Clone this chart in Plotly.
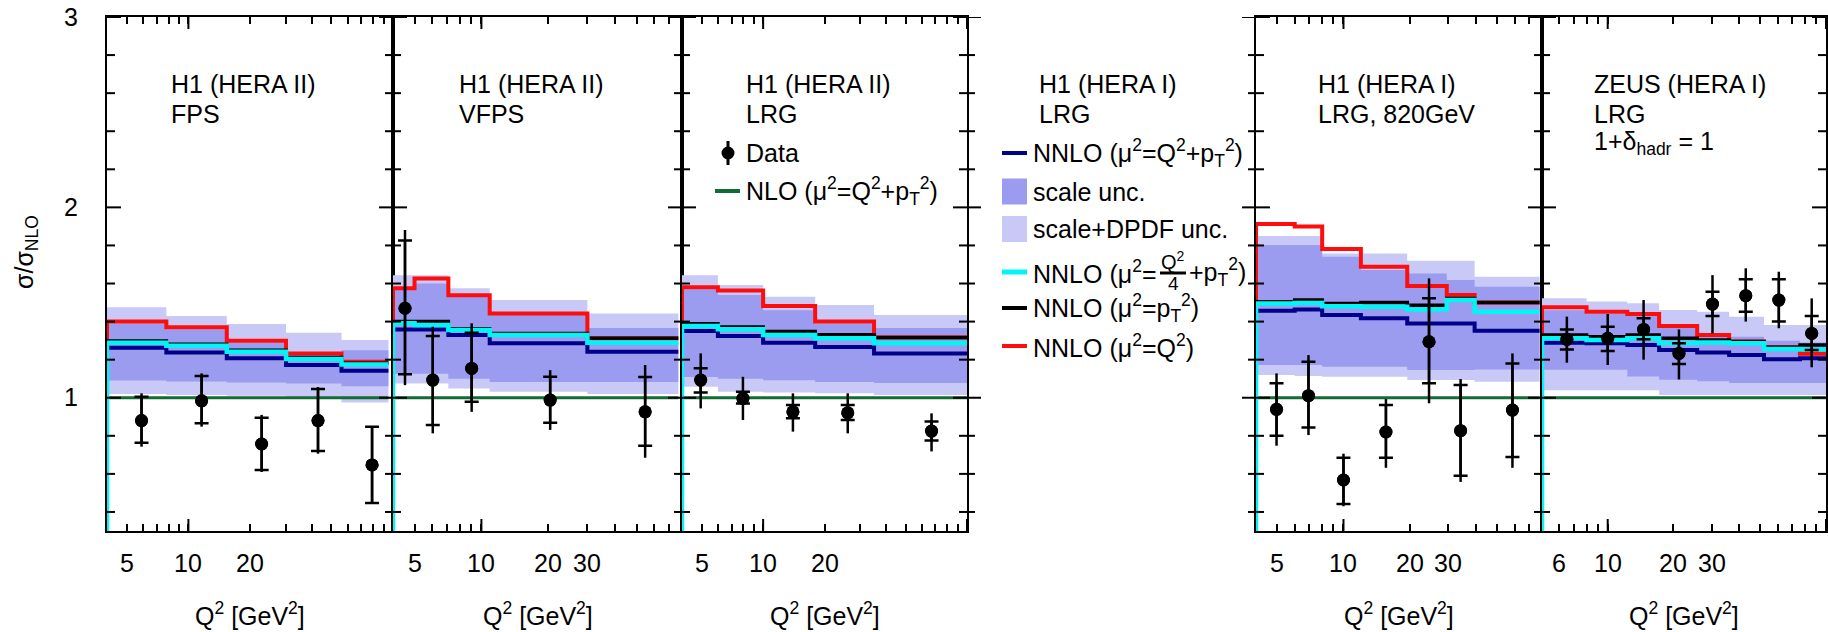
import numpy as np
import plotly.graph_objects as go

# ---------------- data (ratio sigma / sigma_NLO) ----------------
# Panel 1: H1 (HERA II) FPS
fps_edges    = [4, 7.8, 15.4, 30, 56, 95]
fps_light_hi = [1.475, 1.43, 1.387, 1.341, 1.303]
fps_light_lo = [1.02, 1.015, 1.01, 1.005, 0.975]
fps_scale_hi = [1.39, 1.36, 1.29, 1.225, 1.25]
fps_scale_lo = [1.09, 1.085, 1.08, 1.075, 1.06]
fps_nnlo     = [1.263, 1.238, 1.207, 1.172, 1.142]
fps_nnlo_q24 = [1.289, 1.273, 1.242, 1.203, 1.175]
fps_nnlo_pt  = [1.298, 1.281, 1.25, 1.212, 1.181]
fps_nnlo_q2  = [1.40, 1.37, 1.30, 1.233, 1.189]
fps_q2       = [5.9, 11.6, 22.8, 43, 79]
fps_data     = [0.88, 0.984, 0.757, 0.88, 0.647]
fps_stat_hi  = [1.005, 1.114, 0.895, 1.046, 0.848]
fps_stat_lo  = [0.764, 0.866, 0.62, 0.72, 0.447]
fps_tot_hi   = [1.023, 1.128, 0.91, 1.056, 0.848]
fps_tot_lo   = [0.743, 0.848, 0.61, 0.706, 0.447]

# Panel 2: H1 (HERA II) VFPS
vfps_edges    = [4, 5, 7.1, 10.9, 30, 77]
vfps_light_hi = [1.644, 1.644, 1.575, 1.514, 1.443]
vfps_light_lo = [1.075, 1.075, 1.049, 1.031, 1.019]
vfps_scale_hi = [1.575, 1.60, 1.535, 1.436, 1.366]
vfps_scale_lo = [1.126, 1.126, 1.10, 1.083, 1.083]
vfps_nnlo     = [1.359, 1.359, 1.33, 1.286, 1.242]
vfps_nnlo_q24 = [1.391, 1.382, 1.356, 1.329, 1.289]
vfps_nnlo_pt  = [1.40, 1.40, 1.363, 1.338, 1.313]
vfps_nnlo_q2  = [1.575, 1.627, 1.539, 1.443, 1.313]
vfps_q2       = [4.53, 6.04, 9.04, 20.4, 54.6]
vfps_data     = [1.47, 1.093, 1.154, 0.988, 0.926]
vfps_stat_hi  = [1.826, 1.324, 1.342, 1.11, 1.109]
vfps_stat_lo  = [1.124, 0.857, 0.979, 0.869, 0.748]
vfps_tot_hi   = [1.881, 1.373, 1.391, 1.145, 1.172]
vfps_tot_lo   = [1.066, 0.813, 0.926, 0.831, 0.685]

# Panel 3: H1 (HERA II) LRG
lrg2_edges    = [4, 6, 10, 18, 35, 100]
lrg2_light_hi = [1.644, 1.592, 1.531, 1.487, 1.435]
lrg2_light_lo = [1.058, 1.032, 1.027, 1.023, 1.014]
lrg2_scale_hi = [1.57, 1.54, 1.46, 1.39, 1.366]
lrg2_scale_lo = [1.109, 1.10, 1.092, 1.083, 1.078]
lrg2_nnlo     = [1.35, 1.324, 1.289, 1.266, 1.233]
lrg2_nnlo_q24 = [1.377, 1.36, 1.329, 1.312, 1.286]
lrg2_nnlo_pt  = [1.389, 1.372, 1.348, 1.331, 1.317]
lrg2_nnlo_q2  = [1.58, 1.563, 1.482, 1.40, 1.317]
lrg2_q2       = [4.94, 7.96, 14, 26, 67]
lrg2_data     = [1.093, 0.997, 0.926, 0.921, 0.825]
lrg2_stat_hi  = [1.155, 1.032, 0.962, 0.962, 0.875]
lrg2_stat_lo  = [1.027, 0.97, 0.892, 0.883, 0.776]
lrg2_tot_hi   = [1.233, 1.11, 1.023, 1.023, 0.918]
lrg2_tot_lo   = [0.944, 0.883, 0.822, 0.813, 0.718]

# Panel 5: H1 (HERA I) LRG, 820 GeV
lrg820_edges    = [4, 6, 8, 12, 19.5, 29.5, 39.5, 78]
lrg820_light_hi = [1.849, 1.849, 1.758, 1.758, 1.72, 1.72, 1.636]
lrg820_light_lo = [1.119, 1.114, 1.11, 1.11, 1.093, 1.093, 1.084]
lrg820_scale_hi = [1.802, 1.802, 1.741, 1.671, 1.653, 1.618, 1.583]
lrg820_scale_lo = [1.172, 1.172, 1.163, 1.163, 1.146, 1.146, 1.149]
lrg820_nnlo     = [1.457, 1.464, 1.434, 1.417, 1.39, 1.39, 1.352]
lrg820_nnlo_q24 = [1.495, 1.498, 1.481, 1.478, 1.464, 1.513, 1.452]
lrg820_nnlo_pt  = [1.504, 1.513, 1.495, 1.50, 1.486, 1.521, 1.50]
lrg820_nnlo_q2  = [1.912, 1.90, 1.781, 1.688, 1.587, 1.54, 1.50]
lrg820_q2       = [4.96, 6.93, 10.0, 15.6, 24.5, 34.1, 58.7]
lrg820_data     = [0.939, 1.011, 0.568, 0.82, 1.294, 0.827, 0.935]
lrg820_stat_hi  = [1.076, 1.189, 0.685, 0.962, 1.522, 1.067, 1.18]
lrg820_stat_lo  = [0.80, 0.844, 0.442, 0.685, 1.076, 0.59, 0.689]
lrg820_tot_hi   = [1.128, 1.224, 0.706, 0.993, 1.627, 1.098, 1.233]
lrg820_tot_lo   = [0.748, 0.804, 0.43, 0.632, 0.971, 0.558, 0.632]

# Panel 6: ZEUS (HERA I) LRG
zeus_edges    = [5, 8, 12.3, 17.2, 25.7, 36, 52, 76, 100]
zeus_light_hi = [1.522, 1.505, 1.496, 1.461, 1.452, 1.426, 1.382, 1.382]
zeus_light_lo = [1.04, 1.04, 1.04, 1.014, 1.014, 1.014, 1.014, 1.014]
zeus_scale_hi = [1.46, 1.44, 1.43, 1.37, 1.33, 1.32, 1.30, 1.29]
zeus_scale_lo = [1.147, 1.147, 1.112, 1.095, 1.086, 1.077, 1.077, 1.077]
zeus_nnlo     = [1.289, 1.286, 1.277, 1.251, 1.237, 1.225, 1.202, 1.207]
zeus_nnlo_q24 = [1.312, 1.303, 1.312, 1.286, 1.29, 1.286, 1.256, 1.253]
zeus_nnlo_pt  = [1.33, 1.321, 1.33, 1.312, 1.303, 1.295, 1.265, 1.277]
zeus_nnlo_q2  = [1.475, 1.452, 1.44, 1.377, 1.33, 1.295, 1.265, 1.231]
zeus_q2       = [6.5, 10, 14.6, 21.2, 30.2, 42.9, 60.8, 86]
zeus_data     = [1.307, 1.312, 1.359, 1.233, 1.492, 1.536, 1.513, 1.338]
zeus_stat_hi  = [1.359, 1.373, 1.417, 1.286, 1.557, 1.622, 1.622, 1.429]
zeus_stat_lo  = [1.254, 1.245, 1.307, 1.177, 1.429, 1.452, 1.40, 1.251]
zeus_tot_hi   = [1.426, 1.44, 1.513, 1.359, 1.644, 1.68, 1.662, 1.522]
zeus_tot_lo   = [1.184, 1.172, 1.20, 1.096, 1.338, 1.40, 1.365, 1.16]

# axis ranges (Q^2 in GeV^2) and labelled ticks
q2_ranges = [(4, 100), (4, 80), (4, 100), None, (4, 80), (5, 100)]
tick_labels = [[5, 10, 20], [5, 10, 20, 30], [5, 10, 20], [], [5, 10, 20, 30], [6, 10, 20, 30]]
y_range = [0.3, 3]
y_tick_values = [0.4, 0.6, 0.8, 1.0, 1.2, 1.4, 1.6, 1.8, 2.0, 2.2, 2.4, 2.6, 2.8, 3.0]
y_major_values = [1, 2, 3]

panel_titles = [
    ["H1 (HERA II)", "FPS"],
    ["H1 (HERA II)", "VFPS"],
    ["H1 (HERA II)", "LRG"],
    ["H1 (HERA I)", "LRG"],
    ["H1 (HERA I)", "LRG, 820GeV"],
    ["ZEUS (HERA I)", "LRG", "1+δ<sub>hadr</sub> = 1"],
]

legend_labels_main = [
    "NNLO (μ<sup>2</sup>=Q<sup>2</sup>+p<sub>T</sub><sup>2</sup>)",
    "scale unc.",
    "scale+DPDF unc.",
    ["NNLO (μ<sup>2</sup>=", "Q<sup>2</sup>", "4", "+p<sub>T</sub><sup>2</sup>)"],
    "NNLO (μ<sup>2</sup>=p<sub>T</sub><sup>2</sup>)",
    "NNLO (μ<sup>2</sup>=Q<sup>2</sup>)",
]
legend_labels_data = ["Data", "NLO (μ<sup>2</sup>=Q<sup>2</sup>+p<sub>T</sub><sup>2</sup>)"]

panels = [
    dict(edges=fps_edges, lhi=fps_light_hi, llo=fps_light_lo, shi=fps_scale_hi, slo=fps_scale_lo,
         nnlo=fps_nnlo, q24=fps_nnlo_q24, pt=fps_nnlo_pt, q2=fps_nnlo_q2,
         x=fps_q2, y=fps_data, sh=fps_stat_hi, sl=fps_stat_lo, th=fps_tot_hi, tl=fps_tot_lo),
    dict(edges=vfps_edges, lhi=vfps_light_hi, llo=vfps_light_lo, shi=vfps_scale_hi, slo=vfps_scale_lo,
         nnlo=vfps_nnlo, q24=vfps_nnlo_q24, pt=vfps_nnlo_pt, q2=vfps_nnlo_q2,
         x=vfps_q2, y=vfps_data, sh=vfps_stat_hi, sl=vfps_stat_lo, th=vfps_tot_hi, tl=vfps_tot_lo),
    dict(edges=lrg2_edges, lhi=lrg2_light_hi, llo=lrg2_light_lo, shi=lrg2_scale_hi, slo=lrg2_scale_lo,
         nnlo=lrg2_nnlo, q24=lrg2_nnlo_q24, pt=lrg2_nnlo_pt, q2=lrg2_nnlo_q2,
         x=lrg2_q2, y=lrg2_data, sh=lrg2_stat_hi, sl=lrg2_stat_lo, th=lrg2_tot_hi, tl=lrg2_tot_lo),
    None,
    dict(edges=lrg820_edges, lhi=lrg820_light_hi, llo=lrg820_light_lo, shi=lrg820_scale_hi, slo=lrg820_scale_lo,
         nnlo=lrg820_nnlo, q24=lrg820_nnlo_q24, pt=lrg820_nnlo_pt, q2=lrg820_nnlo_q2,
         x=lrg820_q2, y=lrg820_data, sh=lrg820_stat_hi, sl=lrg820_stat_lo, th=lrg820_tot_hi, tl=lrg820_tot_lo),
    dict(edges=zeus_edges, lhi=zeus_light_hi, llo=zeus_light_lo, shi=zeus_scale_hi, slo=zeus_scale_lo,
         nnlo=zeus_nnlo, q24=zeus_nnlo_q24, pt=zeus_nnlo_pt, q2=zeus_nnlo_q2,
         x=zeus_q2, y=zeus_data, sh=zeus_stat_hi, sl=zeus_stat_lo, th=zeus_tot_hi, tl=zeus_tot_lo),
]

# ---------------- style ----------------
C_LIGHT = "#c9c9f7"
C_SCALE = "#9b9bf0"
C_RED = "#ff0d0d"
C_CYAN = "#00f5f5"
C_NAVY = "#000088"
C_BLACK = "#000000"
C_GREEN = "#136b36"
FONT = "Liberation Sans, Arial, sans-serif"
FS = 25

W, H = 1828, 632
L, R, T, B = 107, 2, 17, 101
PW, PH = W - L - R, H - T - B
bounds = [107, 393, 682, 967, 1256, 1542, 1826]


def px(xp):
    return (xp - L) / PW


def py(yp):
    return (H - B - yp) / PH


def step_xy(edges, vals, start=None):
    xs = list(edges)
    ys = list(vals) + [vals[-1]]
    if start is not None:
        xs = [edges[0]] + xs
        ys = [start] + ys
    return xs, ys


def add_text(txt, xp, yp, anchor="left", size=FS):
    annotations.append(dict(text=txt, xref="paper", yref="paper", x=px(xp), y=py(yp),
                            xanchor=anchor, yanchor="middle", showarrow=False, borderpad=0,
                            font=dict(size=size, color="black", family=FONT)))


fig = go.Figure()
shapes = []
annotations = []

for k in range(6):
    xa = "x" if k == 0 else f"x{k + 1}"
    ya = "y" if k == 0 else f"y{k + 1}"
    p = panels[k]
    if p is not None:
        e = p["edges"]
        for lo, hi, col in [(p["llo"], p["lhi"], C_LIGHT), (p["slo"], p["shi"], C_SCALE)]:
            xs, ys = step_xy(e, lo)
            fig.add_trace(go.Scatter(x=xs, y=ys, xaxis=xa, yaxis=ya, mode="lines",
                                     line=dict(width=0, shape="hv", color=col),
                                     showlegend=False, hoverinfo="skip"))
            xs, ys = step_xy(e, hi)
            fig.add_trace(go.Scatter(x=xs, y=ys, xaxis=xa, yaxis=ya, mode="lines",
                                     line=dict(width=0, shape="hv", color=col),
                                     fill="tonexty", fillcolor=col,
                                     showlegend=False, hoverinfo="skip"))
        nlo = list(np.ones(len(e) - 1))
        xs, ys = step_xy(e, nlo, start=0.0)
        fig.add_trace(go.Scatter(x=xs, y=ys, xaxis=xa, yaxis=ya, mode="lines",
                                 line=dict(width=3, shape="hv", color=C_GREEN),
                                 showlegend=False, hoverinfo="skip"))
        for key, col, lw in [("q2", C_RED, 4), ("nnlo", C_NAVY, 4), ("pt", C_BLACK, 3.5), ("q24", C_CYAN, 4.5)]:
            xs, ys = step_xy(e, p[key], start=0.0)
            fig.add_trace(go.Scatter(x=xs, y=ys, xaxis=xa, yaxis=ya, mode="lines",
                                     line=dict(width=lw, shape="hv", color=col),
                                     showlegend=False, hoverinfo="skip"))
        yv = np.array(p["y"])
        fig.add_trace(go.Scatter(
            x=p["x"], y=p["y"], xaxis=xa, yaxis=ya, mode="markers",
            marker=dict(size=13, color="black"),
            error_y=dict(type="data", symmetric=False,
                         array=list(np.array(p["th"]) - yv), arrayminus=list(yv - np.array(p["tl"])),
                         width=0, thickness=2.5, color="black"),
            showlegend=False, hoverinfo="skip"))
        fig.add_trace(go.Scatter(
            x=p["x"], y=p["y"], xaxis=xa, yaxis=ya, mode="markers",
            marker=dict(size=13, color="black"),
            error_y=dict(type="data", symmetric=False,
                         array=list(np.array(p["sh"]) - yv), arrayminus=list(yv - np.array(p["sl"])),
                         width=7, thickness=2.5, color="black"),
            showlegend=False, hoverinfo="skip"))

    dom = [px(bounds[k]), px(bounds[k + 1])]
    if q2_ranges[k] is not None:
        lo, hi = q2_ranges[k]
        tv = [m * 10 ** d for d in range(0, 3) for m in range(1, 10) if lo <= m * 10 ** d <= hi]
        xaxis = dict(type="log", range=[np.log10(lo), np.log10(hi)], domain=dom, anchor=ya,
                     showline=True, linewidth=2, linecolor="black", mirror="ticks",
                     ticks="inside", ticklen=7, tickwidth=2, tickcolor="black",
                     tickmode="array", tickvals=tv, showticklabels=False,
                     showgrid=False, zeroline=False)
        # tick labels placed on the axis scale (log axis -> log10 position)
        for v in tick_labels[k]:
            annotations.append(dict(text=str(v), xref=xa, yref="paper", x=np.log10(v), y=py(563),
                                    xanchor="center", yanchor="middle", showarrow=False, borderpad=0,
                                    font=dict(size=FS, color="black", family=FONT)))
        for dec in [10, 100]:
            if lo <= dec <= hi:
                for y0, y1 in [(0, 12 / PH), (1, 1 - 12 / PH)]:
                    shapes.append(dict(type="line", xref=xa, yref="paper", x0=dec, x1=dec,
                                       y0=y0, y1=y1, line=dict(color="black", width=2)))
        add_text("Q<sup>2</sup> [GeV<sup>2</sup>]", (bounds[k] + bounds[k + 1]) / 2, 614, "center")
    else:
        xaxis = dict(range=[0, 1], domain=dom, anchor=ya, showline=True, linewidth=2,
                     linecolor="black", mirror=True, ticks="", showticklabels=False,
                     showgrid=False, zeroline=False)
    ytt = [str(int(v)) if v in y_major_values else "" for v in y_tick_values]
    yaxis = dict(range=y_range, domain=[0, 1], anchor=xa, showline=True, linewidth=2,
                 linecolor="black", mirror=True, ticks="", tickmode="array",
                 tickvals=y_tick_values, ticktext=ytt, showticklabels=(k == 0),
                 tickfont=dict(size=FS, color="black", family=FONT), ticklabelstandoff=22,
                 showgrid=False, zeroline=False)
    fig.update_layout({("xaxis" if k == 0 else f"xaxis{k + 1}"): xaxis,
                       ("yaxis" if k == 0 else f"yaxis{k + 1}"): yaxis})

# y ticks on every panel boundary (long at integers, short elsewhere), pointing into both panels
for i, b in enumerate(bounds):
    for v in y_tick_values:
        ln = 14 if v in y_major_values else 8
        x0 = b - ln if i > 0 else b
        x1 = b + ln if i < len(bounds) - 1 else b
        shapes.append(dict(type="line", xref="paper", yref="y", x0=px(x0), x1=px(x1),
                           y0=v, y1=v, line=dict(color="black", width=2)))

# panel titles
title_x = [170, 458, 745, 1038, 1317, 1593]
title_y = [84, 114, 143]
for k, lines in enumerate(panel_titles):
    for j, txt in enumerate(lines):
        add_text(txt, title_x[k], title_y[j])

# y title
annotations.append(dict(text="σ/σ<sub>NLO</sub>", xref="paper", yref="paper", x=px(26), y=py(252),
                        xanchor="center", yanchor="middle", textangle=-90, showarrow=False,
                        font=dict(size=FS, color="black", family=FONT)))

# legend (panel 3): data + NLO
leg_rows3 = [153, 191]
shapes.append(dict(type="line", xref="paper", yref="paper", x0=px(728), x1=px(728),
                   y0=py(141), y1=py(165), line=dict(color="black", width=3)))
shapes.append(dict(type="circle", xref="paper", yref="paper", x0=px(721.5), x1=px(734.5),
                   y0=py(146.5), y1=py(159.5), fillcolor="black", line=dict(color="black", width=0)))
shapes.append(dict(type="line", xref="paper", yref="paper", x0=px(715), x1=px(740),
                   y0=py(191), y1=py(191), line=dict(color=C_GREEN, width=4)))
for txt, yy in zip(legend_labels_data, leg_rows3):
    add_text(txt, 745, yy)

# legend (panel 4): theory
leg_rows4 = [153, 191.5, 229, 272, 308, 346]
leg_kind = [("line", C_NAVY, 4), ("box", C_SCALE, 0), ("box", C_LIGHT, 0),
            ("line", C_CYAN, 5), ("line", C_BLACK, 4), ("line", C_RED, 4)]
for (kind, col, lw), yy, txt in zip(leg_kind, leg_rows4, legend_labels_main):
    if kind == "line":
        shapes.append(dict(type="line", xref="paper", yref="paper", x0=px(1002), x1=px(1027),
                           y0=py(yy), y1=py(yy), line=dict(color=col, width=lw)))
    else:
        shapes.append(dict(type="rect", xref="paper", yref="paper", x0=px(1002), x1=px(1027),
                           y0=py(yy + 13), y1=py(yy - 13), fillcolor=col, line=dict(width=0)))
    if isinstance(txt, list):
        # label with a stacked fraction Q^2 / 4
        add_text(txt[0], 1032, yy)
        add_text(txt[1], 1173, yy - 12, "center", 20)
        shapes.append(dict(type="line", xref="paper", yref="paper", x0=px(1160), x1=px(1186),
                           y0=py(yy + 1), y1=py(yy + 1), line=dict(color="black", width=3)))
        add_text(txt[2], 1173, yy + 12, "center", 19)
        add_text(txt[3], 1188, yy)
    else:
        add_text(txt, 1032, yy)

fig.update_layout(width=W, height=H, margin=dict(l=L, r=R, t=T, b=B, autoexpand=False),
                  paper_bgcolor="white", plot_bgcolor="white", showlegend=False,
                  font=dict(family=FONT, size=FS, color="black"),
                  shapes=shapes, annotations=annotations)

fig.write_html("out.html")
